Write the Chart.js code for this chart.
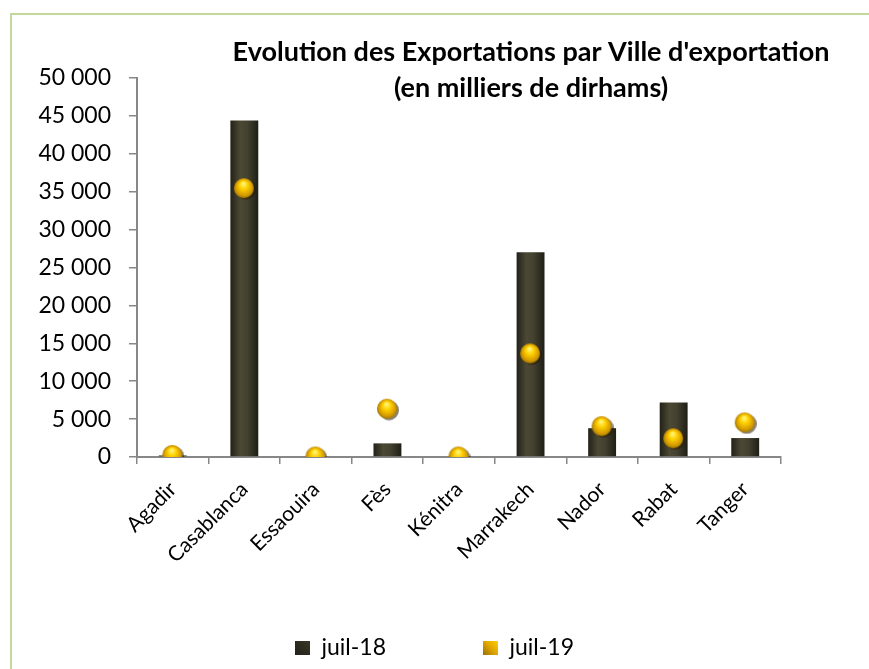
<!DOCTYPE html>
<html>
<head>
<meta charset="utf-8">
<title>Evolution des Exportations par Ville d'exportation</title>
<script src="https://cdn.jsdelivr.net/npm/chart.js@4.4.1/dist/chart.umd.min.js"></script>
<style>
  html, body { margin: 0; padding: 0; background: #fff; }
  body { width: 869px; height: 669px; overflow: hidden; position: relative; }
  #frame { position: absolute; left: 10px; top: 13px; width: 1000px; height: 1000px;
           border-left: 2px solid #c4d89d; border-top: 2px solid #c4d89d; }
  #wrap { position: absolute; left: 0; top: 0; width: 869px; height: 669px; }
</style>
</head>
<body>
<div id="frame"></div>
<div id="wrap"><canvas id="myChart"></canvas></div>
<script>
// data (milliers de dirhams)
const villes = ['Agadir', 'Casablanca', 'Essaouira', 'Fès', 'Kénitra', 'Marrakech', 'Nador', 'Rabat', 'Tanger'];
const juil18 = [200, 44400, 0, 1800, 0, 27000, 3800, 7200, 2500];
const juil19 = [200, 35400, 0, 6300, 0, 13600, 4000, 2400, 4500];
const serieNames = ['juil-18', 'juil-19'];
const yTickLabels = ['0', '5 000', '10 000', '15 000', '20 000', '25 000', '30 000', '35 000', '40 000', '45 000', '50 000'];
const titleLines = ["Evolution des Exportations par Ville d'exportation", '(en milliers de dirhams)'];

const FONT = 'Lato, Calibri, sans-serif';
const AXIS_GREY = '#878787';

// gold ball used for the juil-19 points
function makeSphere(size) {
  const c = document.createElement('canvas');
  c.width = size; c.height = size;
  const g = c.getContext('2d');
  const r = size / 2;
  g.fillStyle = 'rgba(40,30,0,0.55)';
  g.beginPath(); g.arc(r + 1.5, r + 1, r - 1.5, 0, Math.PI * 2); g.fill();
  const grad = g.createRadialGradient(r - 1, r * 0.55, 1, r, r, r);
  grad.addColorStop(0, '#fff36e');
  grad.addColorStop(0.3, '#ffd000');
  grad.addColorStop(0.7, '#d39a00');
  grad.addColorStop(1, '#7d5a00');
  g.fillStyle = grad;
  g.beginPath(); g.arc(r - 0.5, r - 0.5, r - 1.5, 0, Math.PI * 2); g.fill();
  return c;
}

// small squares for the legend
function makeSquare(c1, c2, c3) {
  const c = document.createElement('canvas');
  c.width = 15; c.height = 14;
  const g = c.getContext('2d');
  const grad = g.createLinearGradient(15, 0, 0, 14);
  grad.addColorStop(0, c1);
  grad.addColorStop(0.5, c2);
  grad.addColorStop(1, c3);
  g.fillStyle = grad;
  g.fillRect(0, 0, 15, 14);
  return c;
}

const sphere = makeSphere(23);
const box18 = makeSquare('#3a3826', '#2e2c1e', '#23221a');
const box19 = makeSquare('#ffd200', '#e0a600', '#9a7000');

// dark olive bar with a lighter middle
function barFill(c) {
  const chart = c.chart;
  if (c.type !== 'data' || !chart.chartArea) return '#3a3727';
  const x = chart.scales.x.getPixelForValue(c.dataIndex);
  const g = chart.ctx.createLinearGradient(x - 14, 0, x + 14, 0);
  g.addColorStop(0, '#222117');
  g.addColorStop(0.35, '#4b4834');
  g.addColorStop(0.6, '#444130');
  g.addColorStop(1, '#1f1e15');
  return g;
}

const LEGEND_GAP = 97;

const titlePlugin = {
  id: 'titreVille',
  afterDraw(chart) {
    const c = chart.ctx;
    c.save();
    c.font = 'bold 27px ' + FONT;
    c.fillStyle = '#000';
    c.textAlign = 'center';
    c.textBaseline = 'alphabetic';
    c.fillText(titleLines[0], 531, 61);
    c.fillText(titleLines[1], 531, 97);
    c.restore();
  }
};

// the legend only takes a thin strip in the layout; move its box up so the
// wide item padding does not push the text off the canvas
const legendPlace = {
  id: 'legendPlace',
  afterLayout(chart) {
    const lg = chart.legend;
    if (lg) lg.top = lg.bottom - (LEGEND_GAP + 23 + 10);
  }
};

const ctx = document.getElementById('myChart');

new Chart(ctx, {
  data: {
    labels: villes,
    datasets: [
      {
        type: 'line',
        label: serieNames[1],
        data: juil19,
        showLine: false,
        pointStyle: sphere,
        pointRadius: 11,
        pointHoverRadius: 11,
        order: 0
      },
      {
        type: 'bar',
        label: serieNames[0],
        data: juil18,
        backgroundColor: barFill,
        borderWidth: 0,
        barPercentage: 0.39,
        categoryPercentage: 1,
        order: 1
      }
    ]
  },
  options: {
    responsive: true,
    maintainAspectRatio: false,
    animation: false,
    events: [],
    layout: { padding: { top: 78, left: 0, right: 0, bottom: 0 } },
    plugins: {
      tooltip: { enabled: false },
      legend: {
        position: 'bottom',
        maxHeight: 40,
        labels: {
          usePointStyle: true,
          boxWidth: 15,
          boxHeight: 14,
          padding: LEGEND_GAP,
          color: '#000',
          font: { family: FONT, size: 23 },
          generateLabels: function() {
            return [
              { text: serieNames[0], pointStyle: box18, fillStyle: '#2e2c1e', strokeStyle: 'rgba(0,0,0,0)', lineWidth: 0, fontColor: '#000', datasetIndex: 1 },
              { text: serieNames[1], pointStyle: box19, fillStyle: '#e0a600', strokeStyle: 'rgba(0,0,0,0)', lineWidth: 0, fontColor: '#000', datasetIndex: 0 }
            ];
          }
        }
      }
    },
    scales: {
      x: {
        offset: true,
        grid: { display: true, drawOnChartArea: false, drawTicks: true, tickLength: 7, color: AXIS_GREY, lineWidth: 1.5, offset: true },
        border: { color: AXIS_GREY, width: 2 },
        ticks: { color: '#000', font: { family: FONT, size: 21 }, minRotation: 45, maxRotation: 45, padding: 13, autoSkip: false },
        afterFit: function(scale) { scale.height = 669 - 40 - 457; }
      },
      y: {
        min: 0,
        max: 50000,
        grid: { display: true, drawOnChartArea: false, drawTicks: true, tickLength: 8, color: AXIS_GREY, lineWidth: 1.5 },
        border: { color: AXIS_GREY, width: 2 },
        ticks: {
          stepSize: 5000,
          color: '#000',
          padding: 18,
          font: { family: FONT, size: 23 },
          callback: function(value, index) { return yTickLabels[index]; }
        },
        afterFit: function(scale) { scale.width = 137; }
      },
      // empty right-hand axis that only keeps the plot area off the right edge
      marge: {
        type: 'linear',
        position: 'right',
        display: true,
        grid: { display: false },
        border: { display: false },
        ticks: { display: false },
        afterFit: function(scale) { scale.width = 88; }
      }
    }
  },
  plugins: [titlePlugin, legendPlace]
});
</script>
</body>
</html>
